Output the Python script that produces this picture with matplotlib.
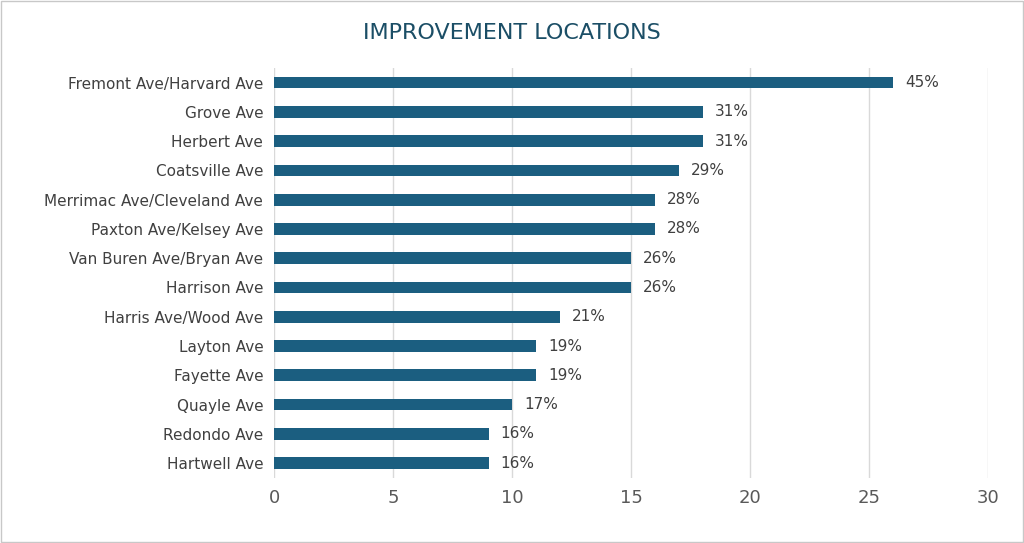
import matplotlib
matplotlib.use("Agg")
import matplotlib.pyplot as plt
from matplotlib.patches import Rectangle

categories = ["Fremont Ave/Harvard Ave", "Grove Ave", "Herbert Ave", "Coatsville Ave",
              "Merrimac Ave/Cleveland Ave", "Paxton Ave/Kelsey Ave", "Van Buren Ave/Bryan Ave",
              "Harrison Ave", "Harris Ave/Wood Ave", "Layton Ave", "Fayette Ave", "Quayle Ave",
              "Redondo Ave", "Hartwell Ave"]
values = [26, 18, 18, 17, 16, 16, 15, 15, 12, 11, 11, 10, 9, 9]
pct_labels = ["45%", "31%", "31%", "29%", "28%", "28%", "26%", "26%", "21%", "19%", "19%", "17%", "16%", "16%"]
xticks = [0, 5, 10, 15, 20, 25, 30]

fig = plt.figure(figsize=(10.24, 5.43), dpi=100)
fig.patches.append(Rectangle((0.001, 0.001), 0.998, 0.997, transform=fig.transFigure,
                             fill=False, edgecolor="#c8c8c8", linewidth=1))
ax = fig.add_axes([0.268, 0.12, 0.697, 0.755])
color = "#1b5e80"
y = list(range(len(categories)))
ax.barh(y, values, height=0.4, color=color, zorder=3)
for yi, v, lab in zip(y, values, pct_labels):
    ax.text(v + 0.5, yi, lab, va="center", ha="left", fontsize=11, color="#404040")
ax.set_yticks(y)
ax.set_yticklabels(categories, fontsize=11, color="#404040")
ax.invert_yaxis()
ax.set_ylim(len(categories) - 0.5, -0.5)
ax.set_xlim(0, 30)
ax.set_xticks(xticks)
ax.set_xticklabels([str(t) for t in xticks], fontsize=13, color="#595959")
ax.grid(axis="x", color="#d9d9d9", linewidth=1, zorder=0)
for s in ax.spines.values():
    s.set_visible(False)
ax.tick_params(length=0, pad=8)
fig.text(0.5, 0.94, "IMPROVEMENT LOCATIONS", ha="center", va="center", fontsize=16, color="#1b4e66")
fig.savefig("out.png", dpi=100)
